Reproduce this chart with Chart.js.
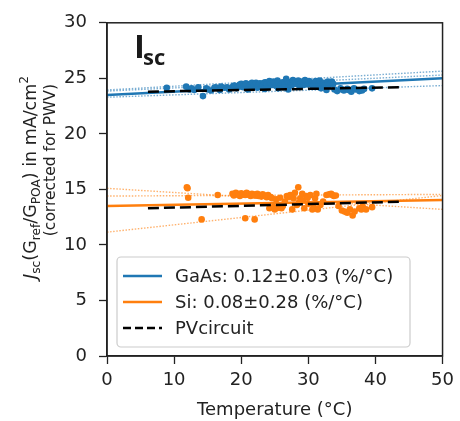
<!DOCTYPE html>
<html>
<head>
<meta charset="utf-8">
<script src="https://cdn.jsdelivr.net/npm/chart.js@4.4.1/dist/chart.umd.min.js"></script>
<style>
  html, body { margin: 0; padding: 0; background: #fff; }
  #wrap { width: 460px; height: 421px; }
</style>
</head>
<body>
<div id="wrap"><canvas id="iscChart" width="460" height="421"></canvas></div>
<script>
// --- measured Jsc vs module temperature ---
const gaasTemp = [8.9, 11.8, 12.3, 12.6, 13.0, 13.6, 14.3, 14.8, 15.0, 15.5, 16.0, 16.2, 16.8, 17.0, 17.5, 17.9,
  18.2, 18.8, 19.0, 19.3, 19.5, 19.8, 20.0, 20.3, 20.5, 20.7, 21.0, 21.2, 21.4, 21.6, 21.8, 22.0, 22.2, 22.4,
  22.6, 22.8, 23.0, 23.2, 23.4, 23.5, 23.6, 23.8, 24.0, 24.2, 24.4, 24.6, 24.8, 25.0, 25.2, 25.4, 25.5, 25.6,
  25.8, 26.0, 26.2, 26.3, 26.5, 26.7, 26.9, 27.0, 27.1, 27.3, 27.5, 27.7, 27.9, 28.1, 28.3, 28.5, 28.7, 28.9,
  29.1, 29.3, 29.5, 29.7, 29.9, 30.1, 30.3, 30.5, 30.7, 30.9, 31.1, 31.3, 31.5, 31.7, 31.9, 32.1, 32.3, 32.5,
  32.7, 32.9, 33.1, 33.3, 33.5, 33.7, 33.9, 34.3, 34.8, 35.0, 35.3, 35.8, 36.0, 36.4, 36.8, 37.0, 37.6, 38.0,
  38.3, 39.5];
const gaasJsc = [24.15, 24.25, 24.0, 24.1, 23.95, 24.2, 23.4, 24.1, 24.0, 23.9, 24.15, 24.2, 23.95, 24.25, 24.15, 24.2,
  24.0, 24.3, 24.35, 24.1, 24.2, 24.45, 24.5, 24.2, 24.35, 24.55, 24.0, 24.3, 24.5, 24.6, 24.25, 24.4, 24.6, 24.15,
  24.45, 24.55, 24.3, 24.35, 24.6, 24.05, 24.65, 24.45, 24.2, 24.75, 24.5, 24.4, 24.7, 24.55, 24.3, 24.8, 24.1, 24.6,
  24.35, 24.45, 24.65, 24.2, 24.5, 24.95, 24.7, 24.0, 24.55, 24.4, 24.35, 24.85, 24.75, 24.6, 24.5, 24.8, 24.25, 24.55,
  24.7, 24.4, 24.85, 24.6, 24.45, 24.75, 24.6, 24.45, 24.3, 24.65, 24.75, 24.35, 24.5, 24.8, 24.1, 24.55, 24.6, 24.3,
  23.95, 24.7, 24.4, 24.55, 24.7, 24.5, 24.0, 23.85, 24.1, 24.0, 23.9, 24.05, 23.95, 23.8, 24.1, 24.0, 23.85, 23.9,
  24.05, 24.1];

const siTemp = [11.9, 12.0, 12.1, 14.1, 16.5, 18.7, 18.9, 19.2, 19.4, 19.6, 19.8, 20.0, 20.2, 20.4, 20.6, 20.6,
  20.8, 21.0, 21.2, 21.4, 21.6, 21.8, 22.0, 22.0, 22.2, 22.4, 22.6, 22.8, 23.0, 23.2, 23.4, 23.6, 23.8, 24.0,
  24.2, 24.4, 24.6, 24.8, 25.0, 25.2, 25.5, 25.8, 26.0, 26.2, 26.5, 26.8, 27.0, 27.3, 27.6, 27.8, 28.0, 28.3,
  28.5, 28.6, 28.8, 29.1, 29.2, 29.4, 29.7, 29.9, 30.0, 30.3, 30.6, 30.8, 31.0, 31.2, 31.4, 31.8, 32.2, 32.7,
  33.1, 33.4, 33.6, 33.8, 34.1, 34.5, 35.0, 35.4, 35.8, 36.2, 36.6, 36.9, 37.6, 37.9, 38.1, 38.6, 39.5];
const siJsc = [15.2, 15.1, 14.25, 12.3, 14.5, 14.6, 14.45, 14.7, 14.6, 14.5, 14.4, 14.65, 14.55, 14.55, 12.4, 14.5,
  14.7, 14.6, 14.5, 14.4, 14.6, 14.55, 12.3, 14.45, 14.45, 14.6, 14.4, 14.5, 14.35, 14.55, 14.45, 14.4, 14.3, 14.5,
  13.3, 14.3, 14.2, 13.4, 13.2, 14.1, 13.35, 14.25, 13.3, 13.5, 13.9, 14.4, 14.3, 14.5, 13.2, 14.2, 14.7, 13.6,
  15.2, 13.8, 14.2, 14.6, 14.0, 13.3, 14.4, 14.25, 13.7, 14.5, 13.2, 13.4, 14.2, 14.6, 13.2, 13.6, 13.9, 14.5,
  14.55, 14.6, 14.5, 14.4, 14.45, 13.5, 13.1, 13.0, 12.9, 13.2, 12.65, 13.0, 13.3, 13.2, 13.45, 13.2, 13.4];

// linear fits across the full axis, plus the slope-uncertainty envelopes
const fitTemp = [0, 50];
const gaasFit = [23.5, 25.0];
const gaasBounds = [[23.95, 25.65], [23.85, 25.3], [23.3, 24.35]];
const siFit = [13.5, 14.05];
const siBounds = [[15.1, 13.2], [14.4, 14.55], [11.15, 14.45]];

// PVcircuit model
const pvTemp = [6.1, 44.0];
const pvGaas = [23.8, 24.2];
const pvSi = [13.3, 13.9];

const legendLabels = ['GaAs: 0.12\u00b10.03 (%/\u00b0C)', 'Si: 0.08\u00b10.28 (%/\u00b0C)', 'PVcircuit'];
const xTicks = [0, 10, 20, 30, 40, 50];
const yTicks = [0, 5, 10, 15, 20, 25, 30];

const BLUE = '#1f77b4';
const ORANGE = '#ff7f0e';
const INK = '#222';
const FONT = "'DejaVu Sans', sans-serif";

const pts = (xs, ys) => xs.map((x, i) => ({ x, y: ys[i] }));

const lineSet = (xs, ys, color, width, dash, order) => ({
  data: pts(xs, ys),
  showLine: true,
  borderColor: color,
  borderWidth: width,
  borderDash: dash,
  pointRadius: 0,
  fill: false,
  order
});

const dotSet = (xs, ys, color) => ({
  data: pts(xs, ys),
  backgroundColor: color,
  borderWidth: 0,
  pointRadius: 3.3,
  order: 2
});

const datasets = [
  lineSet(pvTemp, pvGaas, '#000', 2.5, [11, 5], 0),
  lineSet(pvTemp, pvSi, '#000', 2.5, [11, 5], 0),
  lineSet(fitTemp, gaasFit, BLUE, 2.5, [], 1),
  lineSet(fitTemp, siFit, ORANGE, 2.5, [], 1),
  dotSet(gaasTemp, gaasJsc, BLUE),
  dotSet(siTemp, siJsc, ORANGE),
  ...gaasBounds.map(b => lineSet(fitTemp, b, 'rgba(31,119,180,0.6)', 1.4, [1.5, 1.6], 3)),
  ...siBounds.map(b => lineSet(fitTemp, b, 'rgba(255,127,14,0.6)', 1.4, [1.5, 1.6], 3))
];

// top/right spines to close the axes box
const frame = {
  id: 'frame',
  afterDatasetsDraw(chart) {
    const { ctx, chartArea: a } = chart;
    ctx.save();
    ctx.strokeStyle = INK;
    ctx.lineWidth = 1.5;
    ctx.strokeRect(a.left, a.top, a.right - a.left, a.bottom - a.top);
    ctx.restore();
  }
};

// "Isc" panel tag
const panelTag = {
  id: 'panelTag',
  afterDraw(chart) {
    const { ctx, chartArea: a } = chart;
    ctx.save();
    ctx.fillStyle = '#1a1a1a';
    ctx.textBaseline = 'alphabetic';
    ctx.font = "bold 33px 'Open Sans', sans-serif";
    ctx.fillText('I', a.left + 27, a.top + 35);
    ctx.font = "bold 22px 'Open Sans', sans-serif";
    ctx.fillText('sc', a.left + 36, a.top + 42);
    ctx.restore();
  }
};

// rotated two-line y label with sub/superscripts
const yLabel = {
  id: 'yLabel',
  afterDraw(chart) {
    const ctx = chart.ctx;
    const size = 17.5, small = 12.2;
    const line1 = [
      { t: 'J', style: 'italic ' },
      { t: 'sc', sub: true },
      { t: '(G' },
      { t: 'ref', sub: true },
      { t: '/G' },
      { t: 'POA', sub: true },
      { t: ') in mA/cm' },
      { t: '2', sup: true }
    ];
    const fontOf = s => (s.style || '') + (s.sub || s.sup ? small : size) + 'px ' + FONT;
    ctx.save();
    ctx.fillStyle = INK;
    ctx.textBaseline = 'alphabetic';

    let total = 0;
    line1.forEach(s => { ctx.font = fontOf(s); s.w = ctx.measureText(s.t).width; total += s.w; });
    ctx.save();
    ctx.translate(36, 76 + total);
    ctx.rotate(-Math.PI / 2);
    let u = 0;
    line1.forEach(s => {
      ctx.font = fontOf(s);
      const v = s.sub ? 4 : (s.sup ? -8.5 : 0);
      ctx.fillText(s.t, u, v);
      u += s.w;
    });
    ctx.restore();

    ctx.font = '15.5px ' + FONT;
    const l2 = '(corrected for PWV)';
    const w2 = ctx.measureText(l2).width;
    ctx.translate(55, 84 + w2);
    ctx.rotate(-Math.PI / 2);
    ctx.fillText(l2, 0, 0);
    ctx.restore();
  }
};

// legend box in the lower left of the axes
const legendBox = {
  id: 'legendBox',
  afterDraw(chart) {
    const { ctx, chartArea: a } = chart;
    const x0 = a.left + 10, y0 = a.bottom - 99, w = 293, h = 90;
    ctx.save();
    ctx.beginPath();
    ctx.roundRect(x0, y0, w, h, 4);
    ctx.fillStyle = 'rgba(255,255,255,0.85)';
    ctx.fill();
    ctx.strokeStyle = '#cccccc';
    ctx.lineWidth = 1.2;
    ctx.stroke();
    const styles = [
      { c: BLUE, dash: [] },
      { c: ORANGE, dash: [] },
      { c: '#000', dash: [8, 4] }
    ];
    ctx.font = '18px ' + FONT;
    ctx.textBaseline = 'middle';
    legendLabels.forEach((lab, i) => {
      const y = y0 + 19 + i * 26;
      ctx.beginPath();
      ctx.setLineDash(styles[i].dash);
      ctx.strokeStyle = styles[i].c;
      ctx.lineWidth = 2.5;
      ctx.moveTo(x0 + 6, y);
      ctx.lineTo(x0 + 45, y);
      ctx.stroke();
      ctx.setLineDash([]);
      ctx.fillStyle = INK;
      ctx.fillText(lab, x0 + 58, y + 1);
    });
    ctx.restore();
  }
};

new Chart(document.getElementById('iscChart'), {
  type: 'scatter',
  data: { datasets },
  options: {
    responsive: false,
    animation: false,
    devicePixelRatio: 1,
    layout: { padding: { top: 17, right: 17, left: 0, bottom: 0 } },
    plugins: { legend: { display: false }, tooltip: { enabled: false } },
    scales: {
      x: {
        type: 'linear',
        min: 0, max: 50,
        afterBuildTicks: s => { s.ticks = xTicks.map(v => ({ value: v })); },
        afterFit: s => { s.height = 65; },
        ticks: { font: { size: 18, family: FONT }, color: INK, padding: 6, maxRotation: 0 },
        grid: { drawOnChartArea: false, drawTicks: true, tickLength: 8, tickWidth: 1.3, color: INK },
        border: { display: true, color: INK, width: 1.5 },
        title: { display: true, text: 'Temperature (\u00b0C)', font: { size: 18, family: FONT }, color: INK, padding: { top: 2, bottom: 0 } }
      },
      y: {
        type: 'linear',
        min: 0, max: 30,
        afterBuildTicks: s => { s.ticks = yTicks.map(v => ({ value: v })); },
        afterFit: s => { s.width = 107; },
        ticks: { font: { size: 18, family: FONT }, color: INK, padding: 12 },
        grid: { drawOnChartArea: false, drawTicks: true, tickLength: 8, tickWidth: 1.3, color: INK },
        border: { display: true, color: INK, width: 1.5 }
      }
    }
  },
  plugins: [frame, panelTag, yLabel, legendBox]
});
</script>
</body>
</html>
